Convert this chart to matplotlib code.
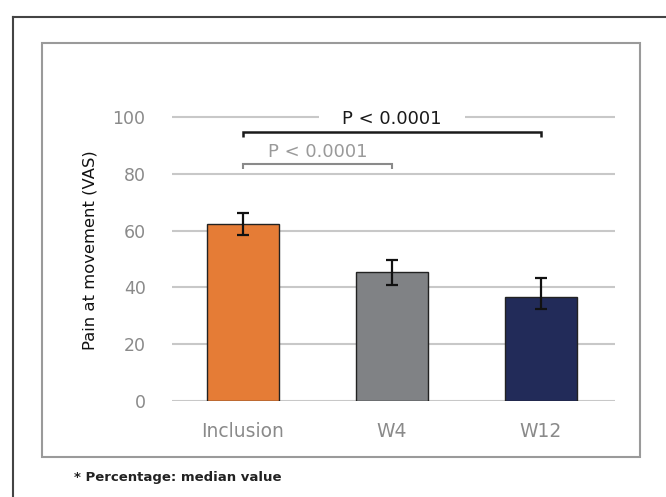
import matplotlib
matplotlib.use("Agg")
import matplotlib.pyplot as plt
from matplotlib.patches import Rectangle
from matplotlib.lines import Line2D

categories = ["Inclusion", "W4", "W12"]
values = [62.3, 45.4, 36.6]
err_upper = [66.2, 49.6, 43.3]
err_lower = [58.5, 40.8, 32.4]
bar_colors = ["#E57C36", "#808285", "#222B59"]
yticks = [0, 20, 40, 60, 80, 100]
ylabel = "Pain at movement (VAS)"
p_label_all = "P < 0.0001"
p_label_w4 = "P < 0.0001"
footnote = "* Percentage: median value"

plt.rcParams['font.family'] = ['DejaVu Sans']

fig = plt.figure(figsize=(6.66, 4.97), dpi=100)
W, H = 666, 497

# outer frame lines
fig.add_artist(Line2D([13 / W, 1.0], [1 - 17 / H, 1 - 17 / H], color="#444444", lw=1.5,
                      transform=fig.transFigure))
fig.add_artist(Line2D([13 / W, 13 / W], [1 - 17 / H, 0], color="#444444", lw=1.5,
                      transform=fig.transFigure))
# inner box
fig.add_artist(Rectangle((42 / W, 1 - 457 / H), (640 - 42) / W, (457 - 43) / H,
                         fill=False, edgecolor="#9a9a9a", lw=1.5, transform=fig.transFigure))

ax = fig.add_axes([172 / W, 1 - 401 / H, (615 - 172) / W, (401 - 100) / H])
x = list(range(len(categories)))
ax.set_xlim(-0.477, 2.497)
ax.set_ylim(0, 106)

ax.set_yticks(yticks)
ax.grid(axis="y", color="#c8c8c8", lw=1.5, zorder=0)
ax.set_axisbelow(True)

yerr = [[v - l for v, l in zip(values, err_lower)], [u - v for v, u in zip(values, err_upper)]]
ax.bar(x, values, width=0.485, color=bar_colors, edgecolor="#222222", lw=1.0, zorder=2)
ax.errorbar(x, values, yerr=yerr, fmt="none", ecolor="#111111", elinewidth=1.6,
            capsize=4, capthick=1.6, zorder=3)

for s in ax.spines.values():
    s.set_visible(False)
ax.tick_params(axis="both", length=0)
ax.tick_params(axis="y", pad=19, labelsize=12.5, labelcolor="#8a8a8a")
ax.tick_params(axis="x", pad=15, labelsize=13.5, labelcolor="#8a8a8a")
ax.set_xticks(x)
ax.set_xticklabels(categories)
ax.set_ylabel(ylabel, fontsize=11.8, color="#111111", labelpad=11)

# brackets
def bracket(x0, x1, y, color, lw):
    d = 1.8
    ax.plot([x0, x0, x1, x1], [y - d, y, y, y - d], color=color, lw=lw, zorder=5,
            solid_capstyle="butt", solid_joinstyle="miter")

ax.text(1.0, 99.2, p_label_all, ha="center", va="center", fontsize=13, color="#1a1a1a",
        zorder=4, bbox=dict(facecolor="white", edgecolor="none", pad=17))
bracket(0, 2, 94.7, "#1a1a1a", 1.8)
bracket(0, 1, 83.5, "#8a8a8a", 1.5)
ax.text(0.5, 87.8, p_label_w4, ha="center", va="center", fontsize=13, color="#9a9a9a",
        zorder=6)

fig.text(74 / W, 1 - 478 / H, footnote, ha="left", va="center", fontsize=9.5,
         fontweight="bold", color="#222222")

fig.savefig("out.png", dpi=100)
